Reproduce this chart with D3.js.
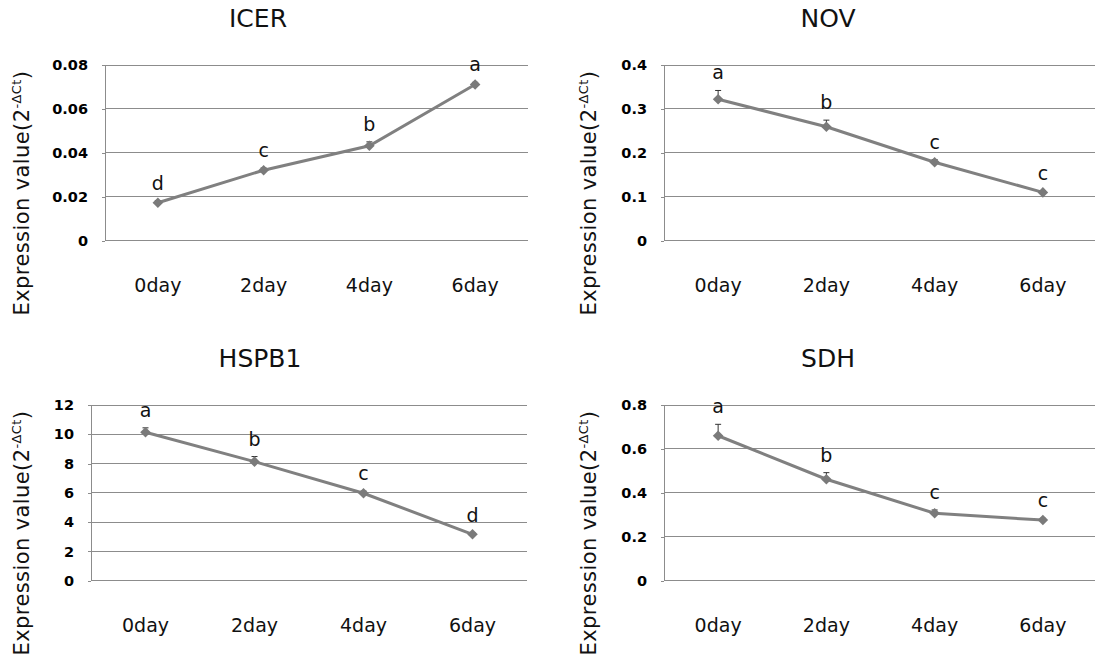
<!DOCTYPE html>
<html>
<head>
<meta charset="utf-8">
<script src="https://cdn.jsdelivr.net/npm/d3@7"></script>
<style>
  body { margin: 0; background: #fff; }
  svg { display: block; }
</style>
</head>
<body>
<div id="chart"></div>
<script>
// categories
var days = ["0day", "2day", "4day", "6day"];

// ICER
var icerMean = [0.0173, 0.0321, 0.0432, 0.0711];
var icerErr = [0.001, 0.001, 0.0018, 0.001];
var icerSig = ["d", "c", "b", "a"];
var icerTicks = [0, 0.02, 0.04, 0.06, 0.08];

// NOV
var novMean = [0.322, 0.2595, 0.1785, 0.110];
var novErr = [0.02, 0.015, 0.006, 0.004];
var novSig = ["a", "b", "c", "c"];
var novTicks = [0, 0.1, 0.2, 0.3, 0.4];

// HSPB1
var hspb1Mean = [10.14, 8.13, 5.97, 3.17];
var hspb1Err = [0.3, 0.35, 0.15, 0.1];
var hspb1Sig = ["a", "b", "c", "d"];
var hspb1Ticks = [0, 2, 4, 6, 8, 10, 12];

// SDH
var sdhMean = [0.660, 0.462, 0.307, 0.276];
var sdhErr = [0.052, 0.03, 0.015, 0.008];
var sdhSig = ["a", "b", "c", "c"];
var sdhTicks = [0, 0.2, 0.4, 0.6, 0.8];

var gridColor = "#8c8c8c";
var lineColor = "#808080";
var textFont = "'DejaVu Sans', sans-serif";

var svg = d3.select("#chart")
    .append("svg")
    .attr("width", 1095)
    .attr("height", 663);

var drawPanel = function(title, mean, err, sig, ticks, box) {

    var x = d3.scaleBand()
        .domain(days)
        .range([box.left, box.right]);

    var y = d3.scaleLinear()
        .domain([ticks[0], ticks[ticks.length - 1]])
        .range([box.bottom, box.top]);

    var g = svg.append("g");

    // gridlines
    g.selectAll("line.grid")
        .data(ticks)
        .enter().append("line")
        .attr("class", "grid")
        .attr("x1", box.left)
        .attr("x2", box.right)
        .attr("y1", function(d){ return y(d); })
        .attr("y2", function(d){ return y(d); })
        .attr("stroke", gridColor)
        .attr("stroke-width", 1)
        .attr("shape-rendering", "crispEdges");

    // y axis
    var yAxis = g.append("g")
        .attr("transform", "translate(" + box.left + ",0)")
        .call(d3.axisLeft(y)
            .tickValues(ticks)
            .tickFormat(function(d){ return String(d); })
            .tickSizeInner(3)
            .tickSizeOuter(0)
            .tickPadding(14));
    yAxis.selectAll("path, line")
        .attr("stroke", gridColor)
        .attr("shape-rendering", "crispEdges");
    yAxis.selectAll("text")
        .attr("font-family", textFont)
        .attr("font-weight", "bold")
        .attr("font-size", "14.5px")
        .attr("fill", "#000");

    // x axis labels
    var xAxis = g.append("g")
        .attr("transform", "translate(0," + box.bottom + ")")
        .call(d3.axisBottom(x).tickSize(0));
    xAxis.select(".domain").remove();
    xAxis.selectAll("text")
        .attr("y", 51)
        .attr("dy", null)
        .attr("font-family", textFont)
        .attr("font-size", "19px")
        .attr("fill", "#111");

    var cx = function(i){ return x(days[i]) + x.bandwidth() / 2; };

    // error bars (upper only)
    g.selectAll("line.err")
        .data(mean)
        .enter().append("line")
        .attr("x1", function(d, i){ return cx(i); })
        .attr("x2", function(d, i){ return cx(i); })
        .attr("y1", function(d){ return y(d); })
        .attr("y2", function(d, i){ return y(d + err[i]); })
        .attr("stroke", "#333")
        .attr("stroke-width", 1);
    g.selectAll("line.cap")
        .data(mean)
        .enter().append("line")
        .attr("x1", function(d, i){ return cx(i) - 3; })
        .attr("x2", function(d, i){ return cx(i) + 3; })
        .attr("y1", function(d, i){ return y(d + err[i]); })
        .attr("y2", function(d, i){ return y(d + err[i]); })
        .attr("stroke", "#333")
        .attr("stroke-width", 1);

    // series line
    var line = d3.line()
        .x(function(d, i){ return cx(i); })
        .y(function(d){ return y(d); });

    g.append("path")
        .datum(mean)
        .attr("d", line)
        .attr("fill", "none")
        .attr("stroke", lineColor)
        .attr("stroke-width", 3);

    // diamond markers
    g.selectAll("path.mark")
        .data(mean)
        .enter().append("path")
        .attr("d", d3.symbol(d3.symbolSquare, 56))
        .attr("transform", function(d, i){
            return "translate(" + cx(i) + "," + y(d) + ") rotate(45)";
        })
        .attr("fill", "#7a7a7a");

    // significance letters
    g.selectAll("text.sig")
        .data(sig)
        .enter().append("text")
        .attr("x", function(d, i){ return cx(i); })
        .attr("y", function(d, i){ return y(mean[i] + err[i]) - 11; })
        .attr("text-anchor", "middle")
        .attr("font-family", textFont)
        .attr("font-size", "19px")
        .attr("fill", "#111")
        .text(function(d){ return d; });

    // title
    g.append("text")
        .attr("x", box.titleX)
        .attr("y", box.top - 38)
        .attr("text-anchor", "middle")
        .attr("font-family", textFont)
        .attr("font-size", "25px")
        .attr("fill", "#111")
        .text(title);

    // y label
    var lab = g.append("text")
        .attr("transform", "translate(" + box.labelX + "," + (box.top + 128) + ") rotate(-90)")
        .attr("text-anchor", "middle")
        .attr("font-family", textFont)
        .attr("font-size", "21px")
        .attr("letter-spacing", "0.4px")
        .attr("fill", "#111");
    lab.append("tspan").text("Expression value(2");
    lab.append("tspan").attr("dy", -8).attr("font-size", "13px").text("-ΔCt");
    lab.append("tspan").attr("dy", 8).text(")");
};

drawPanel("ICER", icerMean, icerErr, icerSig, icerTicks,
    {left: 105, right: 528, top: 65, bottom: 240.7, titleX: 258, labelX: 28.5});
drawPanel("NOV", novMean, novErr, novSig, novTicks,
    {left: 664, right: 1097, top: 65, bottom: 240.7, titleX: 828, labelX: 596});
drawPanel("HSPB1", hspb1Mean, hspb1Err, hspb1Sig, hspb1Ticks,
    {left: 91, right: 527, top: 405, bottom: 580.7, titleX: 260, labelX: 28.5});
drawPanel("SDH", sdhMean, sdhErr, sdhSig, sdhTicks,
    {left: 664, right: 1097, top: 405, bottom: 580.7, titleX: 828, labelX: 596});
</script>
</body>
</html>
